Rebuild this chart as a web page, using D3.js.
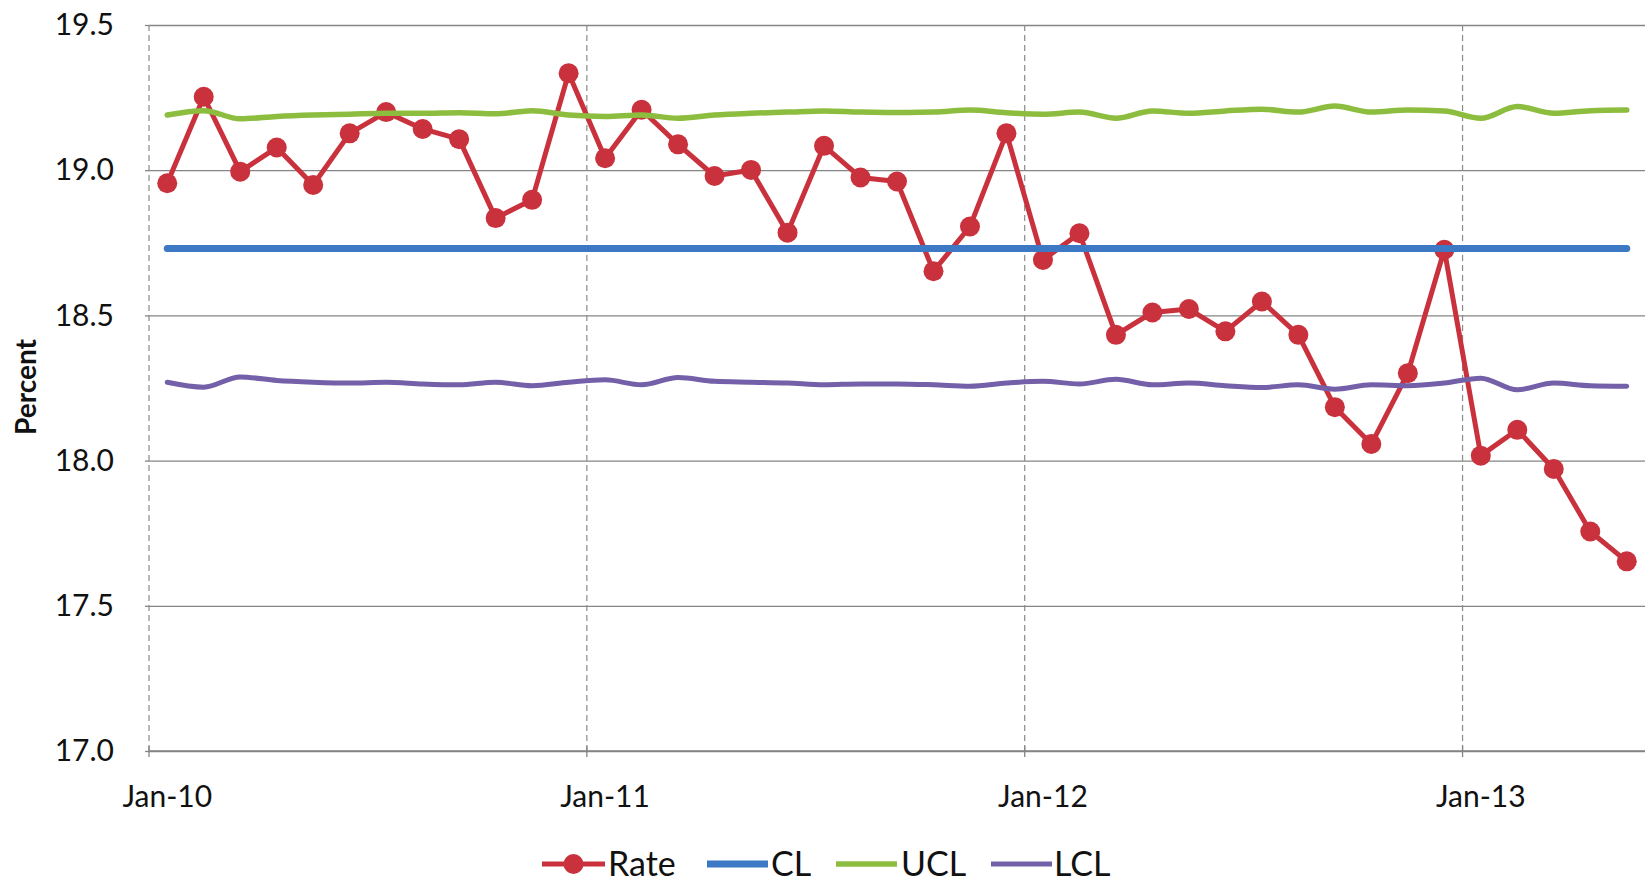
<!DOCTYPE html>
<html>
<head>
<meta charset="utf-8">
<script src="https://cdn.jsdelivr.net/npm/d3@7"></script>
<style>
  html, body { margin: 0; padding: 0; background: #fff; }
  svg { display: block; font-family: Lato, "Open Sans", sans-serif; }
</style>
</head>
<body>
<svg id="chart" width="1650" height="883"></svg>
<script>
// Monthly categories, Jan 2010 – May 2013
const categories = [
  "Jan-10","Feb-10","Mar-10","Apr-10","May-10","Jun-10","Jul-10","Aug-10","Sep-10","Oct-10","Nov-10","Dec-10",
  "Jan-11","Feb-11","Mar-11","Apr-11","May-11","Jun-11","Jul-11","Aug-11","Sep-11","Oct-11","Nov-11","Dec-11",
  "Jan-12","Feb-12","Mar-12","Apr-12","May-12","Jun-12","Jul-12","Aug-12","Sep-12","Oct-12","Nov-12","Dec-12",
  "Jan-13","Feb-13","Mar-13","Apr-13","May-13"
];

// Rate (percent)
const rate = [
  18.955, 19.253, 18.995, 19.078, 18.949, 19.127, 19.200, 19.142, 19.107, 18.835, 18.898, 19.334,
  19.041, 19.208, 19.089, 18.980, 19.001, 18.785, 19.084, 18.975, 18.961, 18.652, 18.806, 19.127,
  18.691, 18.783, 18.433, 18.510, 18.522, 18.445, 18.548, 18.433, 18.184, 18.057, 18.301, 18.726,
  18.017, 18.106, 17.971, 17.756, 17.653
];

// Centre line
const cl = [
  18.73, 18.73, 18.73, 18.73, 18.73, 18.73, 18.73, 18.73, 18.73, 18.73, 18.73, 18.73,
  18.73, 18.73, 18.73, 18.73, 18.73, 18.73, 18.73, 18.73, 18.73, 18.73, 18.73, 18.73,
  18.73, 18.73, 18.73, 18.73, 18.73, 18.73, 18.73, 18.73, 18.73, 18.73, 18.73, 18.73,
  18.73, 18.73, 18.73, 18.73, 18.73
];

// Upper control limit
const ucl = [
  19.190, 19.205, 19.177, 19.185, 19.190, 19.193, 19.196, 19.196, 19.198, 19.194, 19.205, 19.190,
  19.185, 19.190, 19.179, 19.190, 19.196, 19.200, 19.204, 19.200, 19.199, 19.200, 19.207, 19.198,
  19.193, 19.200, 19.179, 19.204, 19.196, 19.204, 19.210, 19.200, 19.221, 19.200, 19.207, 19.204,
  19.179, 19.219, 19.196, 19.205, 19.207
];

// Lower control limit
const lcl = [
  18.270, 18.253, 18.288, 18.276, 18.270, 18.267, 18.270, 18.264, 18.261, 18.270, 18.258, 18.270,
  18.278, 18.261, 18.286, 18.273, 18.270, 18.267, 18.261, 18.264, 18.264, 18.261, 18.256, 18.267,
  18.273, 18.264, 18.280, 18.261, 18.267, 18.258, 18.252, 18.261, 18.246, 18.261, 18.258, 18.267,
  18.284, 18.244, 18.267, 18.258, 18.256
];

const yTicks = [17.0, 17.5, 18.0, 18.5, 19.0, 19.5];
const xTickLabels = ["Jan-10", "Jan-11", "Jan-12", "Jan-13"];
const yTitle = "Percent";

const series = [
  { name: "Rate", values: rate, color: "#C9313D", width: 5,   marker: true },
  { name: "CL",   values: cl,   color: "#3C78C3", width: 7,   marker: false },
  { name: "UCL",  values: ucl,  color: "#8DBD3F", width: 5.5, marker: false },
  { name: "LCL",  values: lcl,  color: "#7360A8", width: 5,   marker: false }
];

const svg = d3.select("#chart");
const plot = { left: 149, right: 1645, top: 25, bottom: 751 };

const x = d3.scaleBand().domain(categories).range([plot.left, plot.right]).padding(0);
const cx = c => x(c) + x.bandwidth() / 2;
const y = d3.scaleLinear().domain([17, 19.5]).range([plot.bottom, plot.top]);

// Horizontal gridlines and y tick labels
const yAxis = d3.axisLeft(y)
  .tickValues(yTicks)
  .tickFormat(d3.format(".1f"))
  .tickSizeInner(-(plot.right - plot.left))
  .tickSizeOuter(0)
  .tickPadding(35);

const gy = svg.append("g").attr("transform", `translate(${plot.left},0)`).call(yAxis);
gy.select(".domain").remove();
gy.selectAll(".tick line").attr("stroke", "#858585").attr("stroke-width", 1.3);
gy.selectAll(".tick text")
  .attr("font-size", 30)
  .attr("fill", "#111")
  .style("font-family", "Lato, sans-serif");

// Small tick marks on the left edge
gy.selectAll(".tick").append("line")
  .attr("x1", -4).attr("x2", 0)
  .attr("stroke", "#858585").attr("stroke-width", 1.3);

// Vertical dashed gridlines at year boundaries
const yearStarts = categories.filter(c => xTickLabels.includes(c));
svg.append("g").selectAll("line")
  .data(yearStarts)
  .join("line")
  .attr("x1", d => x(d)).attr("x2", d => x(d))
  .attr("y1", plot.top).attr("y2", plot.bottom)
  .attr("stroke", "#8a8a8a")
  .attr("stroke-width", 1.2)
  .attr("stroke-dasharray", "6,4");

// Category axis along the bottom
svg.append("line")
  .attr("x1", plot.left).attr("x2", plot.right)
  .attr("y1", plot.bottom).attr("y2", plot.bottom)
  .attr("stroke", "#858585").attr("stroke-width", 1.5);

svg.append("g").selectAll("line")
  .data(yearStarts)
  .join("line")
  .attr("x1", d => x(d)).attr("x2", d => x(d))
  .attr("y1", plot.bottom - 5).attr("y2", plot.bottom + 6)
  .attr("stroke", "#858585").attr("stroke-width", 1.3);

svg.append("g").selectAll("text")
  .data(yearStarts)
  .join("text")
  .attr("x", d => cx(d))
  .attr("y", 807)
  .attr("text-anchor", "middle")
  .attr("font-size", 30)
  .attr("fill", "#111")
  .text(d => d);

// Y-axis title
svg.append("text")
  .attr("transform", "translate(36,387) rotate(-90)")
  .attr("text-anchor", "middle")
  .attr("font-size", 28)
  .attr("font-weight", "bold")
  .attr("fill", "#111")
  .text(yTitle);

// Series lines
const smooth = d3.line()
  .x((d, i) => cx(categories[i]))
  .y(d => y(d))
  .curve(d3.curveMonotoneX);

const straight = d3.line()
  .x((d, i) => cx(categories[i]))
  .y(d => y(d));

series.forEach(s => {
  svg.append("path")
    .datum(s.values)
    .attr("fill", "none")
    .attr("stroke", s.color)
    .attr("stroke-width", s.width)
    .attr("stroke-linejoin", "round")
    .attr("stroke-linecap", "round")
    .attr("d", s.marker ? straight : smooth);

  if (s.marker) {
    svg.append("g").selectAll("circle")
      .data(s.values)
      .join("circle")
      .attr("cx", (d, i) => cx(categories[i]))
      .attr("cy", d => y(d))
      .attr("r", 10)
      .attr("fill", s.color);
  }
});

// Legend
const legendItems = [
  { s: series[0], x0: 542, x1: 605, tx: 608 },
  { s: series[1], x0: 707, x1: 768, tx: 771 },
  { s: series[2], x0: 836, x1: 897, tx: 901 },
  { s: series[3], x0: 991, x1: 1052, tx: 1054 }
];
const ly = 864;
const lg = svg.append("g");
legendItems.forEach(it => {
  lg.append("line")
    .attr("x1", it.x0).attr("x2", it.x1)
    .attr("y1", ly).attr("y2", ly)
    .attr("stroke", it.s.color)
    .attr("stroke-width", it.s.width);
  if (it.s.marker) {
    lg.append("circle")
      .attr("cx", (it.x0 + it.x1) / 2).attr("cy", ly)
      .attr("r", 10).attr("fill", it.s.color);
  }
  lg.append("text")
    .attr("x", it.tx).attr("y", 876)
    .attr("font-size", 34)
    .attr("fill", "#111")
    .text(it.s.name);
});
</script>
</body>
</html>
